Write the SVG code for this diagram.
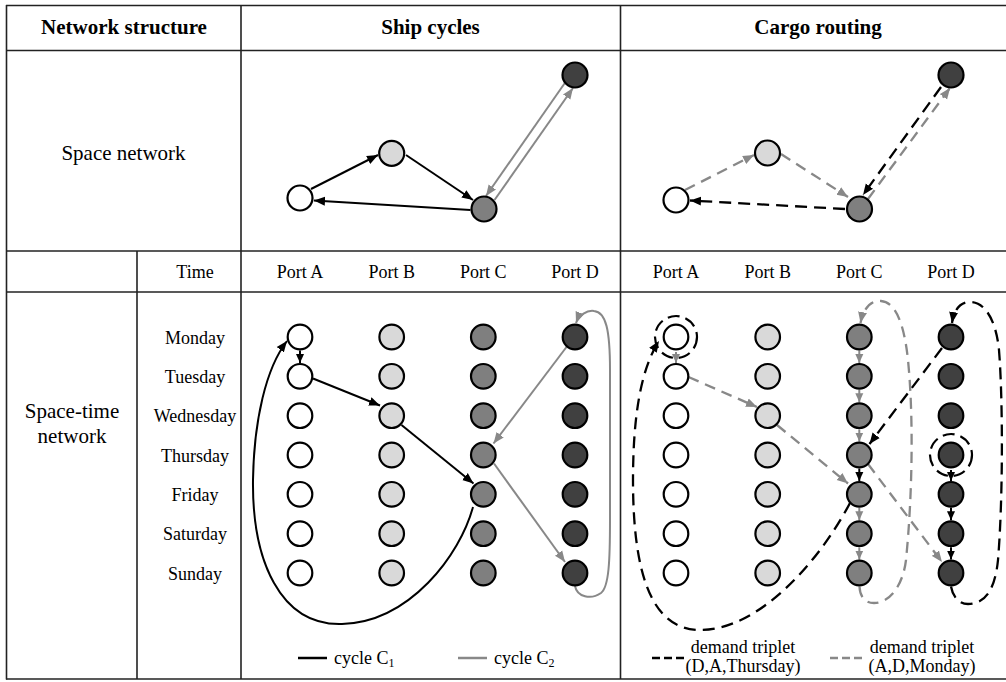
<svg xmlns="http://www.w3.org/2000/svg" width="1006" height="682" viewBox="0 0 1006 682">
<defs>
<style>
.t{font-family:"Liberation Serif","Times New Roman",serif;font-size:18px;fill:#000;text-anchor:middle}
.h{font-weight:bold;font-size:21px}
.big{font-size:21px}
.st{text-anchor:start}
.grid line{stroke:#222;stroke-width:1.6}
circle{stroke:#000;stroke-width:2.2}
.w{fill:#fff}.l{fill:#d9d9d9}.m{fill:#7f7f7f}.d{fill:#404040}
.k{stroke:#000;stroke-width:2;fill:none}
.g{stroke:#888;stroke-width:2;fill:none}
.kd{stroke:#000;stroke-width:2.3;fill:none;stroke-dasharray:12 7}
.gd{stroke:#888;stroke-width:2.3;fill:none;stroke-dasharray:11 7}
.ring{fill:none;stroke-width:2.2}
</style>
<marker id="ak" markerUnits="userSpaceOnUse" markerWidth="12" markerHeight="10" refX="11" refY="5" orient="auto"><path d="M0,0.5 L11,5 L0,9.5 z" fill="#000"/></marker>
<marker id="ag" markerUnits="userSpaceOnUse" markerWidth="12" markerHeight="10" refX="11" refY="5" orient="auto"><path d="M0,0.5 L11,5 L0,9.5 z" fill="#888"/></marker>
<marker id="aks" markerUnits="userSpaceOnUse" markerWidth="10" markerHeight="9" refX="9" refY="4.5" orient="auto"><path d="M0,0.5 L9,4.5 L0,8.5 z" fill="#000"/></marker>
<marker id="ags" markerUnits="userSpaceOnUse" markerWidth="10" markerHeight="9" refX="9" refY="4.5" orient="auto"><path d="M0,0.5 L9,4.5 L0,8.5 z" fill="#888"/></marker>
</defs>
<rect width="1006" height="682" fill="#fff"/>

<g id="table" class="grid">
<line x1="6" y1="5.5" x2="1006" y2="5.5"/>
<line x1="6" y1="50.5" x2="1006" y2="50.5"/>
<line x1="6" y1="251" x2="1006" y2="251"/>
<line x1="6" y1="292" x2="1006" y2="292"/>
<line x1="6" y1="679" x2="1006" y2="679"/>
<line x1="6.5" y1="5" x2="6.5" y2="679.5"/>
<line x1="137" y1="251" x2="137" y2="679"/>
<line x1="241" y1="5" x2="241" y2="679"/>
<line x1="620.5" y1="5" x2="620.5" y2="679"/>
</g>

<g id="labels">
<text class="t h" x="124" y="34">Network structure</text>
<text class="t h" x="430.5" y="34">Ship cycles</text>
<text class="t h" x="818" y="34">Cargo routing</text>
<text class="t big" x="123.5" y="159.5">Space network</text>
<text class="t big" x="72" y="417.5">Space-time</text>
<text class="t big" x="72" y="443">network</text>
<text class="t" x="195" y="277.5">Time</text>
<text class="t" x="300" y="278">Port A</text>
<text class="t" x="391.7" y="278">Port B</text>
<text class="t" x="483.3" y="278">Port C</text>
<text class="t" x="575" y="278">Port D</text>
<text class="t" x="676" y="278">Port A</text>
<text class="t" x="767.7" y="278">Port B</text>
<text class="t" x="859.3" y="278">Port C</text>
<text class="t" x="951" y="278">Port D</text>
<text class="t" x="195" y="343.5">Monday</text>
<text class="t" x="195" y="382.8">Tuesday</text>
<text class="t" x="195" y="422.2">Wednesday</text>
<text class="t" x="195" y="461.5">Thursday</text>
<text class="t" x="195" y="500.8">Friday</text>
<text class="t" x="195" y="540.2">Saturday</text>
<text class="t" x="195" y="579.5">Sunday</text>
</g>

<g id="connectors">
<!-- ship cycles, space network -->
<line class="k" x1="311" y1="189" x2="378" y2="155" marker-end="url(#ak)"/>
<line class="k" x1="406" y1="155" x2="473" y2="200" marker-end="url(#ak)"/>
<line class="k" x1="470.5" y1="210" x2="314" y2="200.5" marker-end="url(#ak)"/>
<line class="g" x1="564.5" y1="83.5" x2="486" y2="196" marker-end="url(#ag)"/>
<line class="g" x1="494.5" y1="200" x2="573" y2="88" marker-end="url(#ag)"/>
<!-- cargo routing, space network -->
<line class="gd" x1="685" y1="190" x2="754" y2="155" marker-end="url(#ag)"/>
<line class="gd" x1="781" y1="154" x2="848" y2="197" marker-end="url(#ag)"/>
<line class="kd" x1="845" y1="209" x2="690" y2="200.5" marker-end="url(#ak)"/>
<line class="kd" x1="941" y1="87" x2="863" y2="195" marker-end="url(#ak)"/>
<line class="gd" x1="868" y1="199" x2="950" y2="88" marker-end="url(#ag)"/>
<!-- ship cycles, space-time network: cycle C1 -->
<line class="k" x1="300" y1="350.5" x2="300" y2="363" marker-end="url(#aks)"/>
<line class="k" x1="313" y1="378.5" x2="380" y2="405.5" marker-end="url(#ak)"/>
<line class="k" x1="401.5" y1="425" x2="473.5" y2="483.5" marker-end="url(#ak)"/>
<path class="k" d="M473,507 C460,555 410,622 342,624 C280,626 252,560 253,480 C254,420 266,368 287,341" marker-end="url(#ak)"/>
<!-- cycle C2 -->
<line class="g" x1="566.5" y1="347" x2="493.5" y2="443.5" marker-end="url(#ag)"/>
<line class="g" x1="494" y1="463.5" x2="565" y2="562" marker-end="url(#ag)"/>
<path class="g" d="M575,586 C577,597 591,600 601,593 C609,587 610,560 610,520 L610,370 C610,330 606,312 594,311 C587,310 579,315 576,323" marker-end="url(#ag)"/>
<!-- cargo routing, space-time: (A,D,Monday) grey -->
<circle class="ring" cx="676" cy="337" r="21" stroke="#888" stroke-dasharray="12 6"/>
<line class="g" x1="676" y1="352" x2="676" y2="363" marker-end="url(#ags)"/>
<line class="gd" x1="688.5" y1="377" x2="757" y2="407" marker-end="url(#ag)"/>
<line class="gd" x1="777" y1="425" x2="848" y2="483.5" marker-end="url(#ag)"/>
<line class="g" x1="859.3" y1="350.5" x2="859.3" y2="363" marker-end="url(#ags)"/>
<line class="g" x1="859.3" y1="389.8" x2="859.3" y2="402.3" marker-end="url(#ags)"/>
<line class="g" x1="859.3" y1="429.2" x2="859.3" y2="441.6" marker-end="url(#ags)"/>
<line class="g" x1="859.3" y1="507.8" x2="859.3" y2="520.3" marker-end="url(#ags)"/>
<line class="g" x1="859.3" y1="547.2" x2="859.3" y2="559.6" marker-end="url(#ags)"/>
<path class="gd" d="M859.5,586.5 C860,598 866,603 874,603 C890,603 903,585 906,560 C912,500 914,420 908,360 C904,322 895,302 881,301 C870,300 863,310 860.5,323" marker-end="url(#ag)"/>
<line class="gd" x1="868" y1="464" x2="942" y2="562" marker-end="url(#ag)"/>
<!-- cargo routing, space-time: (D,A,Thursday) black -->
<circle class="ring" cx="951" cy="455" r="21" stroke="#000" stroke-dasharray="12 6"/>
<line class="k" x1="951" y1="470" x2="951" y2="481" marker-end="url(#aks)"/>
<line class="k" x1="951" y1="507.8" x2="951" y2="520.3" marker-end="url(#aks)"/>
<line class="k" x1="951" y1="547.2" x2="951" y2="559.6" marker-end="url(#aks)"/>
<path class="kd" d="M951,586.5 C953,598 960,604 968,604 C985,604 995,590 998,560 C1003,500 1003,400 999,350 C996,320 985,302 970,302 C960,302 954,310 952,323" marker-end="url(#ak)"/>
<line class="kd" x1="942" y1="348" x2="869.5" y2="444" marker-end="url(#ak)"/>
<line class="k" x1="859.3" y1="468.5" x2="859.3" y2="481" marker-end="url(#aks)"/>
<path class="kd" d="M850,503 C820,560 760,630 700,630 C650,630 633,570 633,480 C633,420 640,370 659,341" marker-end="url(#ak)"/>
</g>

<g id="legend">
<line x1="298" y1="658" x2="327" y2="658" stroke="#000" stroke-width="2.5"/>
<text class="t st" x="334" y="664">cycle C<tspan font-size="12" dy="3">1</tspan></text>
<line x1="458" y1="658" x2="487" y2="658" stroke="#888" stroke-width="2.5"/>
<text class="t st" x="494" y="664">cycle C<tspan font-size="12" dy="3">2</tspan></text>
<line x1="652" y1="658" x2="684" y2="658" stroke="#000" stroke-width="2.5" stroke-dasharray="8 4"/>
<text class="t" x="743" y="652.5">demand triplet</text>
<text class="t" x="743" y="671.5">(D,A,Thursday)</text>
<line x1="830" y1="658" x2="862" y2="658" stroke="#888" stroke-width="2.5" stroke-dasharray="8 4"/>
<text class="t" x="922" y="652.5">demand triplet</text>
<text class="t" x="922" y="671.5">(A,D,Monday)</text>
</g>

<g id="space-ship">
<g id="sp-ship-A"><circle class="w" cx="300" cy="198" r="12.5"/></g>
<g id="sp-ship-B"><circle class="l" cx="391.7" cy="153.3" r="12.5"/></g>
<g id="sp-ship-C"><circle class="m" cx="484" cy="209" r="12.5"/></g>
<g id="sp-ship-D"><circle class="d" cx="575" cy="75" r="12.5"/></g>
</g>
<g id="space-cargo">
<g id="sp-cargo-A"><circle class="w" cx="676" cy="200" r="12.5"/></g>
<g id="sp-cargo-B"><circle class="l" cx="767.5" cy="153" r="12.5"/></g>
<g id="sp-cargo-C"><circle class="m" cx="859.5" cy="209" r="12.5"/></g>
<g id="sp-cargo-D"><circle class="d" cx="951" cy="75" r="12.5"/></g>
</g>

<g id="spacetime-ship">
<g id="st1-A-mon"><circle class="w" cx="300" cy="337" r="12.3"/></g>
<g id="st1-A-tue"><circle class="w" cx="300" cy="376.3" r="12.3"/></g>
<g id="st1-A-wed"><circle class="w" cx="300" cy="415.7" r="12.3"/></g>
<g id="st1-A-thu"><circle class="w" cx="300" cy="455" r="12.3"/></g>
<g id="st1-A-fri"><circle class="w" cx="300" cy="494.3" r="12.3"/></g>
<g id="st1-A-sat"><circle class="w" cx="300" cy="533.7" r="12.3"/></g>
<g id="st1-A-sun"><circle class="w" cx="300" cy="573" r="12.3"/></g>
<g id="st1-B-mon"><circle class="l" cx="391.7" cy="337" r="12.3"/></g>
<g id="st1-B-tue"><circle class="l" cx="391.7" cy="376.3" r="12.3"/></g>
<g id="st1-B-wed"><circle class="l" cx="391.7" cy="415.7" r="12.3"/></g>
<g id="st1-B-thu"><circle class="l" cx="391.7" cy="455" r="12.3"/></g>
<g id="st1-B-fri"><circle class="l" cx="391.7" cy="494.3" r="12.3"/></g>
<g id="st1-B-sat"><circle class="l" cx="391.7" cy="533.7" r="12.3"/></g>
<g id="st1-B-sun"><circle class="l" cx="391.7" cy="573" r="12.3"/></g>
<g id="st1-C-mon"><circle class="m" cx="483.3" cy="337" r="12.3"/></g>
<g id="st1-C-tue"><circle class="m" cx="483.3" cy="376.3" r="12.3"/></g>
<g id="st1-C-wed"><circle class="m" cx="483.3" cy="415.7" r="12.3"/></g>
<g id="st1-C-thu"><circle class="m" cx="483.3" cy="455" r="12.3"/></g>
<g id="st1-C-fri"><circle class="m" cx="483.3" cy="494.3" r="12.3"/></g>
<g id="st1-C-sat"><circle class="m" cx="483.3" cy="533.7" r="12.3"/></g>
<g id="st1-C-sun"><circle class="m" cx="483.3" cy="573" r="12.3"/></g>
<g id="st1-D-mon"><circle class="d" cx="575" cy="337" r="12.3"/></g>
<g id="st1-D-tue"><circle class="d" cx="575" cy="376.3" r="12.3"/></g>
<g id="st1-D-wed"><circle class="d" cx="575" cy="415.7" r="12.3"/></g>
<g id="st1-D-thu"><circle class="d" cx="575" cy="455" r="12.3"/></g>
<g id="st1-D-fri"><circle class="d" cx="575" cy="494.3" r="12.3"/></g>
<g id="st1-D-sat"><circle class="d" cx="575" cy="533.7" r="12.3"/></g>
<g id="st1-D-sun"><circle class="d" cx="575" cy="573" r="12.3"/></g>
</g>

<g id="spacetime-cargo">
<g id="st2-A-mon"><circle class="w" cx="676" cy="337" r="12.3"/></g>
<g id="st2-A-tue"><circle class="w" cx="676" cy="376.3" r="12.3"/></g>
<g id="st2-A-wed"><circle class="w" cx="676" cy="415.7" r="12.3"/></g>
<g id="st2-A-thu"><circle class="w" cx="676" cy="455" r="12.3"/></g>
<g id="st2-A-fri"><circle class="w" cx="676" cy="494.3" r="12.3"/></g>
<g id="st2-A-sat"><circle class="w" cx="676" cy="533.7" r="12.3"/></g>
<g id="st2-A-sun"><circle class="w" cx="676" cy="573" r="12.3"/></g>
<g id="st2-B-mon"><circle class="l" cx="767.7" cy="337" r="12.3"/></g>
<g id="st2-B-tue"><circle class="l" cx="767.7" cy="376.3" r="12.3"/></g>
<g id="st2-B-wed"><circle class="l" cx="767.7" cy="415.7" r="12.3"/></g>
<g id="st2-B-thu"><circle class="l" cx="767.7" cy="455" r="12.3"/></g>
<g id="st2-B-fri"><circle class="l" cx="767.7" cy="494.3" r="12.3"/></g>
<g id="st2-B-sat"><circle class="l" cx="767.7" cy="533.7" r="12.3"/></g>
<g id="st2-B-sun"><circle class="l" cx="767.7" cy="573" r="12.3"/></g>
<g id="st2-C-mon"><circle class="m" cx="859.3" cy="337" r="12.3"/></g>
<g id="st2-C-tue"><circle class="m" cx="859.3" cy="376.3" r="12.3"/></g>
<g id="st2-C-wed"><circle class="m" cx="859.3" cy="415.7" r="12.3"/></g>
<g id="st2-C-thu"><circle class="m" cx="859.3" cy="455" r="12.3"/></g>
<g id="st2-C-fri"><circle class="m" cx="859.3" cy="494.3" r="12.3"/></g>
<g id="st2-C-sat"><circle class="m" cx="859.3" cy="533.7" r="12.3"/></g>
<g id="st2-C-sun"><circle class="m" cx="859.3" cy="573" r="12.3"/></g>
<g id="st2-D-mon"><circle class="d" cx="951" cy="337" r="12.3"/></g>
<g id="st2-D-tue"><circle class="d" cx="951" cy="376.3" r="12.3"/></g>
<g id="st2-D-wed"><circle class="d" cx="951" cy="415.7" r="12.3"/></g>
<g id="st2-D-thu"><circle class="d" cx="951" cy="455" r="12.3"/></g>
<g id="st2-D-fri"><circle class="d" cx="951" cy="494.3" r="12.3"/></g>
<g id="st2-D-sat"><circle class="d" cx="951" cy="533.7" r="12.3"/></g>
<g id="st2-D-sun"><circle class="d" cx="951" cy="573" r="12.3"/></g>
</g>
</svg>
